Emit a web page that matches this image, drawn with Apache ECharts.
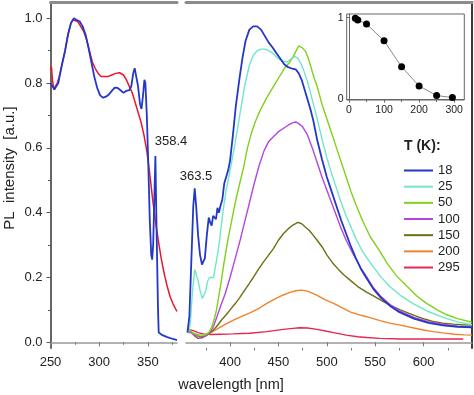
<!DOCTYPE html>
<html><head><meta charset="utf-8">
<script src="https://cdn.jsdelivr.net/npm/echarts@6/dist/echarts.min.js"></script>
<style>html,body{margin:0;padding:0;background:#fff}#c{width:474px;height:395px}</style>
</head><body><div id="c"></div>
<script>
// ---------- left panel (excitation) ----------
const exWlBlue = [250,252,254,256,258,260,262,265,268,271,274,277,280,283,286,289,292,295,298,301,304,307,310,313,316,319,322,325,328,331,333,335,336.5,338,340,342,343.5,345,346.5,347.5,349,350.5,352,353.5,354.5,355.5,356.5,357.8,359,360.5,361.2,365,370,375,380];
const exBlue   = [0.80,0.79,0.78,0.79,0.80,0.83,0.86,0.90,0.95,0.985,1.0,0.995,0.99,0.975,0.95,0.91,0.865,0.82,0.785,0.762,0.755,0.758,0.765,0.776,0.786,0.785,0.778,0.77,0.776,0.778,0.79,0.83,0.846,0.84,0.79,0.735,0.72,0.76,0.81,0.80,0.70,0.55,0.38,0.27,0.255,0.30,0.42,0.575,0.35,0.10,0.03,0.022,0.016,0.011,0.007];
const exWlRed  = [250,251,252,253.5,255,257,259,262,265,268,271,273,275,278,281,284,287,290,293,296,299,302,305,309,313,317,321,325,328,331,334,337,340,343,346,349,352,355,358,361,364,367,370,373,376,380];
const exRed    = [0.84,0.85,0.81,0.78,0.79,0.80,0.82,0.86,0.90,0.95,0.985,0.995,1.0,0.99,0.975,0.96,0.935,0.90,0.865,0.845,0.83,0.82,0.82,0.82,0.825,0.83,0.832,0.825,0.81,0.79,0.77,0.74,0.71,0.68,0.64,0.59,0.52,0.44,0.37,0.31,0.255,0.21,0.172,0.14,0.118,0.095];

// ---------- right panel (PL vs temperature) ----------
const wl18 = [356,358,360,362,363.5,365,367,369,371,372.5,374,376,378,379.5,381,382.5,384,385.5,387,388.5,390,392,394,396,398,400,403,406,410,413,416,420,424,428,432,436,440,444,448,452,456,460,464,468,471,474,477,480,483,486,490,495,500,505,510,515,520,525,530,535,540,548,556,565,575,590,605,620,635,650];
const pl18 = [0.03,0.08,0.25,0.42,0.475,0.42,0.33,0.27,0.24,0.235,0.26,0.33,0.385,0.37,0.36,0.39,0.395,0.38,0.415,0.40,0.42,0.44,0.49,0.51,0.53,0.56,0.64,0.73,0.82,0.88,0.93,0.965,0.975,0.975,0.965,0.945,0.925,0.91,0.892,0.875,0.858,0.849,0.845,0.842,0.83,0.81,0.78,0.75,0.72,0.685,0.625,0.565,0.51,0.465,0.42,0.375,0.335,0.295,0.26,0.228,0.203,0.165,0.137,0.113,0.093,0.073,0.06,0.052,0.048,0.046];
const wl25 = [357,359,361,363.5,365,367,369,371.5,373,375,377,379,381,383,385,387,389,391,393,396,400,405,410,415,420,424,428,432,436,440,445,450,455,459,463,467,470,473,476,480,484,488,492,496,500,505,510,515,520,525,530,537,545,555,565,576,590,605,620,635,650];
const pl25 = [0.03,0.06,0.15,0.225,0.21,0.19,0.16,0.135,0.14,0.16,0.19,0.20,0.205,0.20,0.235,0.27,0.31,0.36,0.41,0.47,0.53,0.61,0.70,0.79,0.855,0.885,0.90,0.905,0.905,0.90,0.89,0.875,0.868,0.865,0.875,0.882,0.877,0.862,0.84,0.805,0.76,0.715,0.665,0.615,0.57,0.52,0.475,0.43,0.39,0.355,0.32,0.28,0.245,0.205,0.172,0.145,0.118,0.095,0.077,0.063,0.054];
const wl50 = [357,359,362,366,370,374,378,381,384,386,390,394,398,402,406,410,414,418,422,426,431,438,444,450,456,461,465,468,471,475,478,481,484,487,490,495,500,505,510,515,520,525,530,537,545,555,562,572,583,593,603,614,624,635,650];
const pl50 = [0.045,0.035,0.028,0.024,0.022,0.022,0.03,0.045,0.075,0.10,0.17,0.25,0.32,0.38,0.44,0.49,0.54,0.60,0.645,0.68,0.715,0.755,0.785,0.815,0.845,0.862,0.88,0.898,0.915,0.908,0.898,0.875,0.845,0.815,0.79,0.735,0.69,0.645,0.60,0.555,0.51,0.465,0.425,0.375,0.325,0.28,0.245,0.205,0.172,0.143,0.12,0.10,0.085,0.073,0.062];
const wl100 = [357,360,365,370,375,379,383,386,390,395,400,405,410,415,420,425,430,435,440,445,450,455,460,465,468,471,475,480,485,490,495,500,505,510,515,520,525,530,535,540,548,556,565,575,590,605,620,635,650];
const pl100 = [0.03,0.03,0.02,0.017,0.02,0.03,0.05,0.075,0.11,0.15,0.20,0.255,0.31,0.37,0.43,0.49,0.545,0.59,0.62,0.635,0.65,0.66,0.67,0.678,0.68,0.675,0.665,0.64,0.60,0.555,0.51,0.47,0.43,0.39,0.35,0.315,0.285,0.257,0.23,0.207,0.169,0.141,0.117,0.097,0.077,0.064,0.055,0.05,0.047];
const wl150 = [357,360,364,367,371,376,381,386,391,396,400,405,410,415,420,425,430,435,440,445,450,455,460,465,470,474,478,482,486,490,495,500,506,512,518,524,532,541,550,558,567,576,585,593,602,610,620,631,640,650];
const pl150 = [0.038,0.03,0.018,0.012,0.014,0.022,0.033,0.048,0.068,0.085,0.10,0.118,0.138,0.16,0.182,0.205,0.228,0.25,0.27,0.29,0.315,0.335,0.35,0.362,0.37,0.366,0.355,0.345,0.33,0.315,0.295,0.27,0.245,0.225,0.207,0.192,0.172,0.155,0.14,0.126,0.112,0.10,0.089,0.08,0.071,0.064,0.059,0.056,0.054,0.053];
const wl200 = [357,361,365,369,374,379,386,395,403,412,420,430,438,446,455,462,468,474,480,485,490,498,507,516,524,532,541,555,565,576,590,600,610,620,632,642,650];
const pl200 = [0.038,0.03,0.022,0.017,0.018,0.028,0.04,0.055,0.068,0.08,0.09,0.105,0.12,0.133,0.146,0.154,0.159,0.161,0.158,0.152,0.145,0.132,0.12,0.106,0.094,0.086,0.079,0.067,0.059,0.053,0.044,0.038,0.033,0.029,0.025,0.023,0.022];
const wl295 = [357,362,367,372,380,390,403,420,438,455,465,472,480,490,500,507,520,532,541,555,576,600,620,641];
const pl295 = [0.04,0.036,0.03,0.026,0.024,0.025,0.026,0.028,0.033,0.04,0.043,0.045,0.044,0.04,0.034,0.03,0.022,0.017,0.015,0.012,0.01,0.01,0.01,0.01];

// ---------- inset ----------
const insetT = [18,25,50,100,150,200,250,295];
const insetI = [0.993,0.972,0.923,0.718,0.40,0.167,0.049,0.025];

// ---------- labels ----------
const tempNames = ['18','25','50','100','150','200','295'];
const yTicks = [0,0.2,0.4,0.6,0.8,1.0];
const yMinor = [0.1,0.3,0.5,0.7,0.9];
const xLeftTicks = [250,300,350];
const xLeftMinor = [275,325,375];
const xRightTicks = [400,450,500,550,600];
const xRightMinor = [375,425,475,525,575,625];
const insetXTicks = [0,100,200,300];
const insetXMinor = [50,150,250];
const insetYTicks = [0,1];

const zip = (a,b) => a.map((v,i)=>[v,b[i]]);
const FONT = 'Liberation Sans, Arial, Helvetica, sans-serif';
const colors = {
  '18':'#2438c8','25':'#6fe6cc','50':'#7fd11a','100':'#b545e0',
  '150':'#6e6e12','200':'#f0822a','295':'#e8264e'
};
const plData = {
  '18':[wl18,pl18],'25':[wl25,pl25],'50':[wl50,pl50],'100':[wl100,pl100],
  '150':[wl150,pl150],'200':[wl200,pl200],'295':[wl295,pl295]
};
const YMIN = -0.0176, YMAX = 1.0503;

const chart = echarts.init(document.getElementById('c'), null, {renderer:'canvas'});

const noLine = {show:false}, noTick = {show:false}, noLabel = {show:false};
const lbl = {color:'#222', fontFamily:FONT, fontSize:13};

const series = [];
series.push({type:'line', name:'exc-red', xAxisIndex:0, yAxisIndex:0, data:zip(exWlRed,exRed),
  symbol:'none', lineStyle:{color:'#e8182e', width:1.5}, silent:true, z:3});
series.push({type:'line', name:'exc-blue', xAxisIndex:0, yAxisIndex:0, data:zip(exWlBlue,exBlue),
  symbol:'none', lineStyle:{color:'#2438c8', width:1.8}, silent:true, z:4});
const order = ['295','200','150','100','50','25','18'];
order.forEach((n,i)=>{
  series.push({type:'line', name:n, xAxisIndex:2, yAxisIndex:2, data:zip(plData[n][0],plData[n][1]),
    symbol:'none', color:colors[n], lineStyle:{color:colors[n], width: n==='18'?1.8:1.4}, silent:true, z:3+i});
});
series.push({type:'line', name:'inset', xAxisIndex:6, yAxisIndex:3, data:zip(insetT,insetI),
  symbol:'circle', symbolSize:7, itemStyle:{color:'#000'}, lineStyle:{color:'#8a8a8a', width:1}, silent:true});

const option = {
  animation:false,
  backgroundColor:'#fff',
  grid:[
    {left:50.5, right:297, top:2, bottom:47},
    {left:186, right:2, top:2, bottom:47},
    {left:346.7, right:9.7, top:14, bottom:295, show:true, borderColor:'#666', borderWidth:1}
  ],
  xAxis:[
    {gridIndex:0, type:'value', min:250, max:380, position:'bottom',
     axisLine:{lineStyle:{color:'#999', width:1.5}},
     axisTick:{length:4, customValues:xLeftTicks, lineStyle:{color:'#777'}},
     axisLabel:Object.assign({margin:8, customValues:xLeftTicks}, lbl), splitLine:{show:false}},
    {gridIndex:0, type:'value', min:250, max:380, position:'bottom',
     axisLine:noLine, axisTick:{length:2.5, customValues:xLeftMinor, lineStyle:{color:'#777'}},
     axisLabel:noLabel, splitLine:{show:false}},
    {gridIndex:1, type:'value', min:354.5, max:650, position:'bottom',
     axisLine:{lineStyle:{color:'#999', width:1.5}},
     axisTick:{length:4, customValues:xRightTicks, lineStyle:{color:'#777'}},
     axisLabel:Object.assign({margin:8, customValues:xRightTicks}, lbl), splitLine:{show:false}},
    {gridIndex:1, type:'value', min:354.5, max:650, position:'bottom',
     axisLine:noLine, axisTick:{length:2.5, customValues:xRightMinor, lineStyle:{color:'#777'}},
     axisLabel:noLabel, splitLine:{show:false}},
    {gridIndex:0, type:'value', min:250, max:380, position:'top',
     axisLine:{lineStyle:{color:'#8c8c8c', width:3}}, axisTick:noTick, axisLabel:noLabel, splitLine:{show:false}},
    {gridIndex:1, type:'value', min:354.5, max:650, position:'top',
     axisLine:{lineStyle:{color:'#8c8c8c', width:3}}, axisTick:noTick, axisLabel:noLabel, splitLine:{show:false}},
    {gridIndex:2, type:'value', min:-6.6, max:329, position:'bottom',
     axisLine:{lineStyle:{color:'#666', width:1}},
     axisTick:{length:3, customValues:insetXTicks, lineStyle:{color:'#666'}},
     axisLabel:{customValues:insetXTicks, margin:5, color:'#222', fontFamily:FONT, fontSize:10.5}, splitLine:{show:false}},
    {gridIndex:2, type:'value', min:-6.6, max:329, position:'bottom',
     axisLine:noLine, axisTick:{length:2, customValues:insetXMinor, lineStyle:{color:'#666'}},
     axisLabel:noLabel, splitLine:{show:false}}
  ],
  yAxis:[
    {gridIndex:0, type:'value', min:YMIN, max:YMAX, position:'left',
     axisLine:{show:true, lineStyle:{color:'#555', width:1.8}},
     axisTick:{show:true, length:4, customValues:yTicks, lineStyle:{color:'#555'}},
     axisLabel:Object.assign({margin:8, customValues:yTicks, formatter:v=>Number(v).toFixed(1)}, lbl),
     splitLine:{show:false}},
    {gridIndex:0, type:'value', min:YMIN, max:YMAX, position:'left',
     axisLine:noLine, axisTick:{show:true, length:2.5, customValues:yMinor, lineStyle:{color:'#555'}},
     axisLabel:noLabel, splitLine:{show:false}},
    {gridIndex:1, type:'value', min:YMIN, max:YMAX, position:'right',
     axisLine:{show:true, lineStyle:{color:'#3a3a3a', width:2}}, axisTick:noTick, axisLabel:noLabel, splitLine:{show:false}},
    {gridIndex:2, type:'value', min:-0.005, max:1.045, position:'left',
     axisLine:{show:true, lineStyle:{color:'#666', width:1}},
     axisTick:{show:true, length:2, customValues:insetYTicks, lineStyle:{color:'#666'}},
     axisLabel:{customValues:insetYTicks, margin:3, color:'#222', fontFamily:FONT, fontSize:10.5},
     splitLine:{show:false}}
  ],
  legend:{
    data:tempNames, orient:'vertical', left:404, top:163.5,
    icon:'rect', itemWidth:29, itemHeight:2, itemGap:2.17, padding:0,
    textStyle:{color:'#222', fontFamily:FONT, fontSize:13, lineHeight:14},
    selectedMode:false
  },
  graphic:[
    {type:'text', x:9.5, y:168, rotation:Math.PI/2,
     style:{text:'PL  intensity  [a.u.]', font:'15px '+FONT, fill:'#222', align:'center', verticalAlign:'middle'}},
    {type:'text', x:231, y:385,
     style:{text:'wavelength [nm]', font:'14.5px '+FONT, fill:'#222', align:'center', verticalAlign:'middle'}},
    {type:'text', x:171, y:141.5,
     style:{text:'358.4', font:'13px '+FONT, fill:'#222', align:'center', verticalAlign:'middle'}},
    {type:'text', x:196, y:176,
     style:{text:'363.5', font:'13px '+FONT, fill:'#222', align:'center', verticalAlign:'middle'}},
    {type:'text', x:404, y:146,
     style:{text:'T (K):', font:'bold 14px '+FONT, fill:'#222', align:'left', verticalAlign:'middle'}}
  ],
  series:series
};
chart.setOption(option);
</script>
</body></html>
